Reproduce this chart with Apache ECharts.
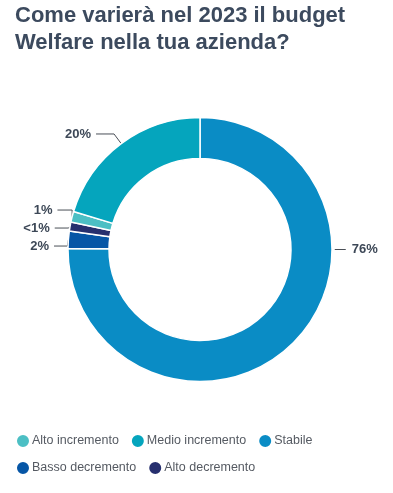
<!DOCTYPE html>
<html>
<head>
<meta charset="utf-8">
<style>
html,body{margin:0;padding:0;background:#fff;}
#chart{width:393px;height:493px;}
</style>
<script src="https://cdn.jsdelivr.net/npm/echarts@6/dist/echarts.min.js"></script>
</head>
<body>
<div id="chart"></div>
<script>
// Categories in legend order
var categories = ['Alto incremento', 'Medio incremento', 'Stabile', 'Basso decremento', 'Alto decremento'];
// Values read from the drawn ring (share of the circle, %)
var values = [1.3, 20.3, 74.9, 2.1, 1.1];
// Printed labels
var labelTexts = ['1%', '20%', '76%', '2%', '<1%'];
var colors = ['#4cbfc4', '#05a5bd', '#0a8cc5', '#0656a6', '#262f6e'];
// Clockwise drawing order from the top
var drawOrder = [2, 3, 4, 0, 1];

var titleText = 'Come varierà nel 2023 il budget\nWelfare nella tua azienda?';

var chart = echarts.init(document.getElementById('chart'), null, {renderer: 'canvas'});

var seriesData = drawOrder.map(function (i) {
  var item = {
    name: categories[i],
    value: values[i],
    itemStyle: {color: colors[i]},
    label: {formatter: labelTexts[i]}
  };
  if (categories[i] === 'Medio incremento') {
    item.labelLine = {length: 12, length2: 18};
  }
  return item;
});

var labelColor = '#3d4857';
var font = '"Liberation Sans", Arial, sans-serif';
var smallLabels = [labelTexts[0], labelTexts[3], labelTexts[4]];

chart.setOption({
  animation: false,
  title: {
    text: titleText,
    left: 15,
    top: 2,
    padding: 0,
    textStyle: {
      fontFamily: font,
      fontSize: 22,
      fontWeight: 'bold',
      color: '#3c4a5e',
      lineHeight: 27
    }
  },
  legend: [{
    data: categories.slice(0, 3),
    left: 15,
    top: 433,
    padding: 0,
    icon: 'circle',
    itemWidth: 14,
    itemHeight: 14,
    itemGap: 11,
    textStyle: {fontFamily: font, fontSize: 12.5, color: '#555a62', padding: [0, 0, 0, -3]}
  }, {
    data: categories.slice(3),
    left: 15,
    top: 460,
    padding: 0,
    icon: 'circle',
    itemWidth: 14,
    itemHeight: 14,
    itemGap: 11,
    textStyle: {fontFamily: font, fontSize: 12.5, color: '#555a62', padding: [0, 0, 0, -3]}
  }],
  series: [{
    type: 'pie',
    center: [200, 249.5],
    radius: [91, 132],
    startAngle: 90,
    clockwise: true,
    avoidLabelOverlap: true,
    itemStyle: {borderColor: '#ffffff', borderWidth: 1.5},
    emphasis: {disabled: true},
    label: {
      show: true,
      position: 'outside',
      fontFamily: font,
      fontSize: 13,
      fontWeight: 'bold',
      color: labelColor,
      lineHeight: 16,
      distanceToLabelLine: 5
    },
    labelLine: {
      show: true,
      length: 3,
      length2: 16,
      lineStyle: {color: '#4a4f57', width: 1}
    },
    labelLayout: function (params) {
      if (params.text === labelTexts[categories.indexOf('Stabile')]) {
        var r = params.rect;
        var cy = r.y + r.height / 2;
        var x0 = r.x + r.width + 2;
        var x1 = x0 + 11;
        return {
          x: x1 + 6,
          y: cy,
          align: 'left',
          verticalAlign: 'middle',
          labelLinePoints: [[x0, cy], [x1, cy], [x1, cy]]
        };
      }
      if (smallLabels.indexOf(params.text) >= 0 && params.labelLinePoints) {
        var dy = -6;
        var p = params.labelLinePoints;
        return {
          dy: dy,
          labelLinePoints: [
            [p[0][0], p[0][1]],
            [p[1][0], p[1][1] + dy],
            [p[2][0], p[2][1] + dy]
          ]
        };
      }
    },
    data: seriesData
  }]
});
</script>
</body>
</html>
